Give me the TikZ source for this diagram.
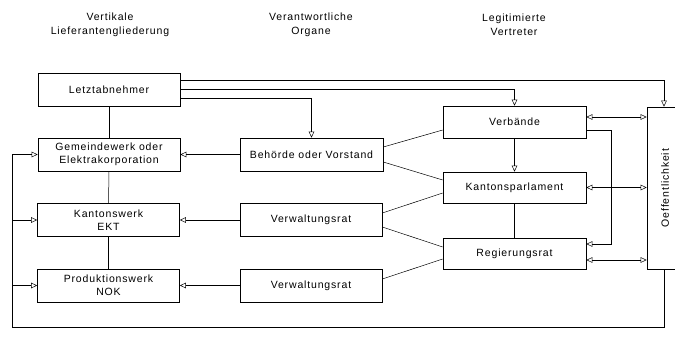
\documentclass[tikz,border=0pt]{standalone}
\usepackage{fontspec}
\setmainfont[LetterSpace=8]{Liberation Sans}
\usetikzlibrary{arrows.meta,calc}
\begin{document}
\begin{tikzpicture}[x=1pt,y=-1pt,
  every node/.style={font=\fontsize{10.5}{13}\selectfont, align=center, inner sep=0pt},
  box/.style={draw, line width=0.6pt, minimum width=142pt, minimum height=33pt},
  head/.style={font=\fontsize{10.5}{14}\selectfont},
  ln/.style={line width=0.5pt},
  arr/.style={ln, -{Triangle[open,length=6pt,width=5.5pt]}},
  darr/.style={ln, {Triangle[open,length=6pt,width=5.5pt]}-{Triangle[open,length=6pt,width=5.5pt]}}]
\useasboundingbox (0,0) rectangle (675,342);
% headers
\node[head] (h1) at (110,25) {Vertikale\\Lieferantengliederung};
\node[head] (h2) at (311,25) {Verantwortliche\\Organe};
\node[head] (h3) at (514,25) {Legitimierte\\Vertreter};
% left column
\node[box] (L) at (109,89.5) {Letztabnehmer};
\node[box] (G) at (109,154.5) {Gemeindewerk oder\\Elektrakorporation};
\node[box] (K) at (108.5,220) {Kantonswerk\\EKT};
\node[box] (P) at (108.5,285.5) {Produktionswerk\\NOK};
% middle column
\node[box, minimum width=143pt] (B) at (311.5,154.5) {Behörde oder Vorstand};
\node[box] (V1) at (311,220) {Verwaltungsrat};
\node[box] (V2) at (311,285.5) {Verwaltungsrat};
% right column
\node[box, minimum width=143pt, minimum height=32pt] (Vb) at (514.5,122) {Verbände};
\node[box, minimum width=143pt, minimum height=31pt] (KP) at (514.5,187.5) {Kantonsparlament};
\node[box, minimum width=143pt, minimum height=31pt] (R) at (514.5,253.5) {Regierungsrat};
% Oeffentlichkeit
\node[draw, line width=0.6pt, minimum width=38pt, minimum height=162pt] (O) at (666,188) {};
\node[rotate=90] (Ot) at (665,188) {Oeffentlichkeit};
% vertical chain
\draw[ln] (L.south) -- (G.north);
\draw[ln] (G.south) -- (K.north);
\draw[ln] (K.south) -- (P.north);
% from Letztabnehmer
\draw[arr] ([yshift=9.5pt]L.east) -| ([xshift=-2pt]O.north);
\draw[arr] (L.east) -| (Vb.north);
\draw[arr] ([yshift=-8.5pt]L.east) -| (B.north);
% organs to suppliers
\draw[arr] (B.west) -- (G.east);
\draw[arr] (V1.west) -- (K.east);
\draw[arr] (V2.west) -- (P.east);
% diagonals
\draw[ln] ([yshift=7.5pt]B.east) -- ([yshift=-8pt]Vb.west);
\draw[ln] ([yshift=-7.5pt]B.east) -- ([yshift=7.5pt]KP.west);
\draw[ln] ([yshift=7pt]V1.east) -- ([yshift=-5.5pt]KP.west);
\draw[ln] ([yshift=-7pt]V1.east) -- ([yshift=6.5pt]R.west);
\draw[ln] ([yshift=6.5pt]V2.east) -- ([yshift=-5.5pt]R.west);
% right column links
\draw[arr] (Vb.south) -- (KP.north);
\draw[ln] (KP.south) -- (R.north);
\draw[arr] ([yshift=-8pt]Vb.east) -- ++(25,0) |- ([yshift=9.5pt]R.east);
% double arrows to Oeffentlichkeit
\draw[darr] ([yshift=5pt]Vb.east) -- ([yshift=5pt]Vb.east -| O.west);
\draw[darr] (KP.east) -- (KP.east -| O.west);
\draw[darr] ([yshift=-6.5pt]R.east) -- ([yshift=-6.5pt]R.east -| O.west);
% feedback loop
\coordinate (rb) at (664,327);
\coordinate (lb) at (12,327);
\draw[ln] ([xshift=-2pt]O.south) -- (rb) -- (lb);
\draw[arr] (lb) |- (G.west);
\draw[arr] (lb) |- (K.west);
\draw[arr] (lb) |- (P.west);
\end{tikzpicture}
\end{document}
